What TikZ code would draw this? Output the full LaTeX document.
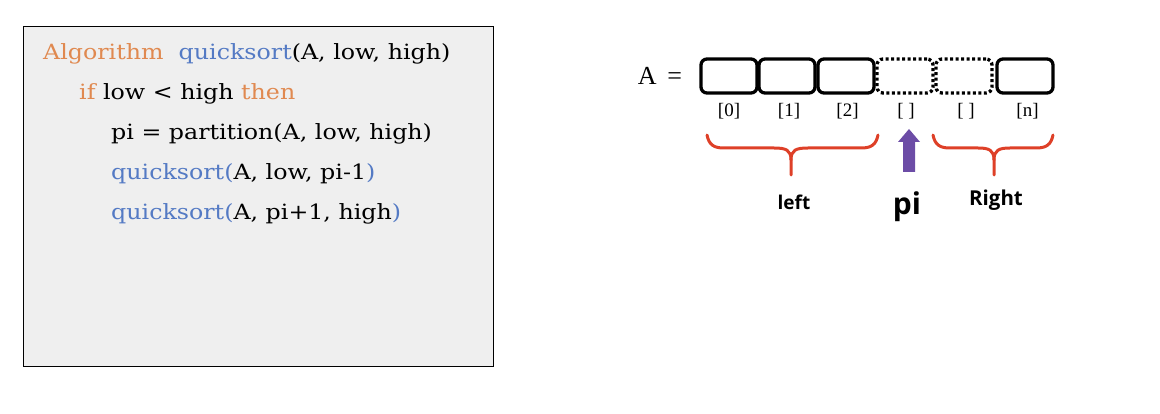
\documentclass[tikz,border=0pt]{standalone}
\usepackage{fontspec}
\setmainfont{Liberation Serif}
\newfontfamily\codefont[FakeStretch=1.13]{DejaVu Serif}
\newfontfamily\lblfont{Open Sans}
\definecolor{kworange}{RGB}{224,137,80}
\definecolor{kwblue}{RGB}{84,122,196}
\definecolor{codebg}{RGB}{239,239,239}
\definecolor{bracered}{RGB}{222,64,40}
\definecolor{arrowpurple}{RGB}{108,76,166}
\begin{document}
\begin{tikzpicture}[x=1pt,y=-1pt,
  codeline/.style={anchor=base west,inner sep=0pt,font=\codefont\fontsize{21}{24}\selectfont},
  cell/.style={draw,line width=3.3pt,rounded corners=6pt,minimum width=56pt,minimum height=34pt,inner sep=0pt},
  dotcell/.style={cell,dash pattern=on 3pt off 2.5pt},
  idx/.style={inner sep=0pt,font=\fontsize{19}{20}\selectfont},
  brace/.style={draw=bracered,line width=3pt,line cap=round},
  lbl/.style={inner sep=0pt,font=\lblfont\bfseries\fontsize{19}{21}\selectfont}]
\useasboundingbox (0,0) rectangle (1160,414);
% code box
\node[draw,fill=codebg,line width=0.8pt,minimum width=470pt,minimum height=340pt,inner sep=0pt] (code) at (258,196) {};
\node[codeline] (l1) at (43,60) {\textcolor{kworange}{Algorithm}\ \ \textcolor{kwblue}{quicksort}(A, low, high)};
\node[codeline] (l2) at (79,100) {\textcolor{kworange}{if} low < high \textcolor{kworange}{then}};
\node[codeline] (l3) at (111,140) {pi = partition(A, low, high)};
\node[codeline] (l4) at (111,180) {\textcolor{kwblue}{quicksort(}A, low, pi-1\textcolor{kwblue}{)}};
\node[codeline] (l5) at (111,220) {\textcolor{kwblue}{quicksort(}A, pi+1, high\textcolor{kwblue}{)}};
% array
\node[inner sep=0pt,font=\fontsize{26}{30}\selectfont] (aeq) at (660,76) {A\ \,=};
\node[cell] (b1) at (729,76) {};
\node[cell] (b2) at (787,76) {};
\node[cell] (b3) at (846,76) {};
\node[dotcell] (b4) at (905,76) {};
\node[dotcell] (b5) at (964,76) {};
\node[cell] (b6) at (1025,76) {};
\node[idx] (i1) at (729,111) {[0]};
\node[idx] (i2) at (789,111) {[1]};
\node[idx] (i3) at (847.5,111) {[2]};
\node[idx] (i4) at (906,111) {[ ]};
\node[idx] (i5) at (966,111) {[ ]};
\node[idx] (i6) at (1027.5,111) {[n]};
% braces
\draw[brace] (707,135) .. controls (709,145) and (714,148) .. (724,148) -- (774,148)
  .. controls (786,148) and (791,150) .. (791,160) -- (791,175);
\draw[brace] (878,135) .. controls (876,145) and (871,148) .. (861,148) -- (808,148)
  .. controls (796,148) and (791,150) .. (791,160);
\draw[brace] (933,135) .. controls (935,145) and (940,148) .. (950,148) -- (978,148)
  .. controls (989,148) and (994,150) .. (994,160) -- (994,175);
\draw[brace] (1053,135) .. controls (1051,145) and (1046,148) .. (1036,148) -- (1010,148)
  .. controls (999,148) and (994,150) .. (994,160);
% pi arrow
\fill[arrowpurple] (903,172) -- (903,142) -- (898,142) -- (909,129) -- (920,142) -- (915,142) -- (915,172) -- cycle;
% labels
\node[lbl] (left) at (794,202) {left};
\node[lbl,font=\lblfont\bfseries\fontsize{30}{32}\selectfont] (pi) at (907,207) {pi};
\node[lbl,font=\lblfont\bfseries\fontsize{20.5}{22}\selectfont] (right) at (996,200) {Right};
\end{tikzpicture}
\end{document}
